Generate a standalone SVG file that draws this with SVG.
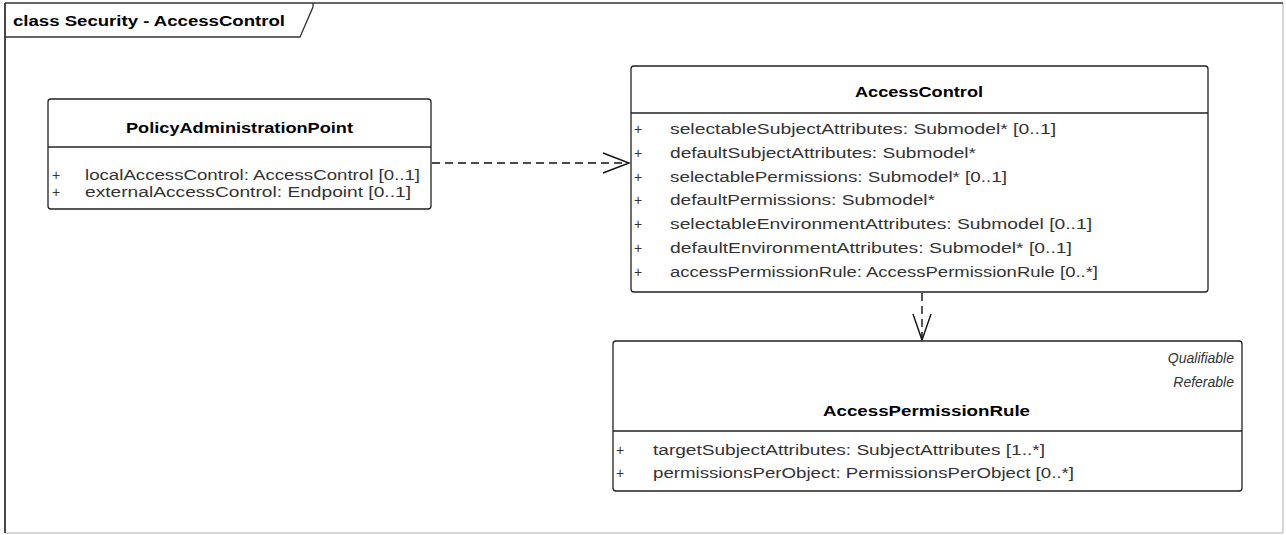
<svg xmlns="http://www.w3.org/2000/svg" width="1286" height="535" viewBox="0 0 1286 535">
<style>
.box{fill:#fff;stroke:#222;stroke-width:1.3}
.div{stroke:#222;stroke-width:1.3}
.t{font-family:"Liberation Sans",Arial,sans-serif;font-size:14px;font-weight:bold;fill:#000}
.a{font-family:"Liberation Sans",Arial,sans-serif;font-size:14px;fill:#333}
.i{font-family:"Liberation Sans",Arial,sans-serif;font-size:14px;font-style:italic;fill:#333}
.dash{fill:none;stroke:#111;stroke-width:1.4;stroke-dasharray:8 5}
.head{fill:none;stroke:#111;stroke-width:1.4}
</style>
<rect width="1286" height="535" fill="#fff"/>
<g id="frame">
<line x1="1283" y1="3" x2="1283" y2="533" stroke="#c8c8c8" stroke-width="1.5"/>
<line x1="5" y1="533" x2="1283" y2="533" stroke="#c8c8c8" stroke-width="1.5"/>
<line x1="5" y1="3" x2="1283" y2="3" stroke="#333" stroke-width="1.5"/>
<line x1="5" y1="3" x2="5" y2="533" stroke="#333" stroke-width="1.8"/>
<path d="M5,37 H300 L313,7 V3" fill="none" stroke="#333" stroke-width="1.3"/>
<text class="t" x="13" y="26" textLength="272" lengthAdjust="spacingAndGlyphs">class Security - AccessControl</text>
</g>
<g id="connectors">
<line class="dash" x1="432" y1="163" x2="628" y2="163"/>
<polyline class="head" points="603,153 629,163 603,173"/>
<line class="dash" x1="922" y1="293" x2="922" y2="338"/>
<polyline class="head" points="913,314 922,340 931,314"/>
</g>
<g id="PolicyAdministrationPoint">
<rect class="box" x="48" y="99" width="383" height="110" rx="3"/>
<line class="div" x1="48" y1="147" x2="431" y2="147"/>
<text class="t" x="126" y="133" textLength="227" lengthAdjust="spacingAndGlyphs">PolicyAdministrationPoint</text>
<text class="a" x="52" y="180">+</text>
<text class="a" x="85" y="180" textLength="335" lengthAdjust="spacingAndGlyphs">localAccessControl: AccessControl [0..1]</text>
<text class="a" x="52" y="197">+</text>
<text class="a" x="85" y="197" textLength="326" lengthAdjust="spacingAndGlyphs">externalAccessControl: Endpoint [0..1]</text>
</g>
<g id="AccessControl">
<rect class="box" x="631" y="66" width="577" height="226" rx="3"/>
<line class="div" x1="631" y1="113" x2="1208" y2="113"/>
<text class="t" x="855" y="97" textLength="128" lengthAdjust="spacingAndGlyphs">AccessControl</text>
<text class="a" x="634" y="134">+</text>
<text class="a" x="670" y="134" textLength="386" lengthAdjust="spacingAndGlyphs">selectableSubjectAttributes: Submodel* [0..1]</text>
<text class="a" x="634" y="158">+</text>
<text class="a" x="670" y="158" textLength="306" lengthAdjust="spacingAndGlyphs">defaultSubjectAttributes: Submodel*</text>
<text class="a" x="634" y="182">+</text>
<text class="a" x="670" y="182" textLength="337" lengthAdjust="spacingAndGlyphs">selectablePermissions: Submodel* [0..1]</text>
<text class="a" x="634" y="205">+</text>
<text class="a" x="670" y="205" textLength="265" lengthAdjust="spacingAndGlyphs">defaultPermissions: Submodel*</text>
<text class="a" x="634" y="229">+</text>
<text class="a" x="670" y="229" textLength="422" lengthAdjust="spacingAndGlyphs">selectableEnvironmentAttributes: Submodel [0..1]</text>
<text class="a" x="634" y="253">+</text>
<text class="a" x="670" y="253" textLength="402" lengthAdjust="spacingAndGlyphs">defaultEnvironmentAttributes: Submodel* [0..1]</text>
<text class="a" x="634" y="277">+</text>
<text class="a" x="670" y="277" textLength="428" lengthAdjust="spacingAndGlyphs">accessPermissionRule: AccessPermissionRule [0..*]</text>
</g>
<g id="AccessPermissionRule">
<rect class="box" x="613" y="341" width="629" height="150" rx="3"/>
<line class="div" x1="613" y1="431" x2="1242" y2="431"/>
<text class="i" x="1234" y="363" text-anchor="end">Qualifiable</text>
<text class="i" x="1234" y="387" text-anchor="end">Referable</text>
<text class="t" x="823" y="416" textLength="207" lengthAdjust="spacingAndGlyphs">AccessPermissionRule</text>
<text class="a" x="616" y="455">+</text>
<text class="a" x="653" y="455" textLength="392" lengthAdjust="spacingAndGlyphs">targetSubjectAttributes: SubjectAttributes [1..*]</text>
<text class="a" x="616" y="478">+</text>
<text class="a" x="653" y="478" textLength="421" lengthAdjust="spacingAndGlyphs">permissionsPerObject: PermissionsPerObject [0..*]</text>
</g>
</svg>
